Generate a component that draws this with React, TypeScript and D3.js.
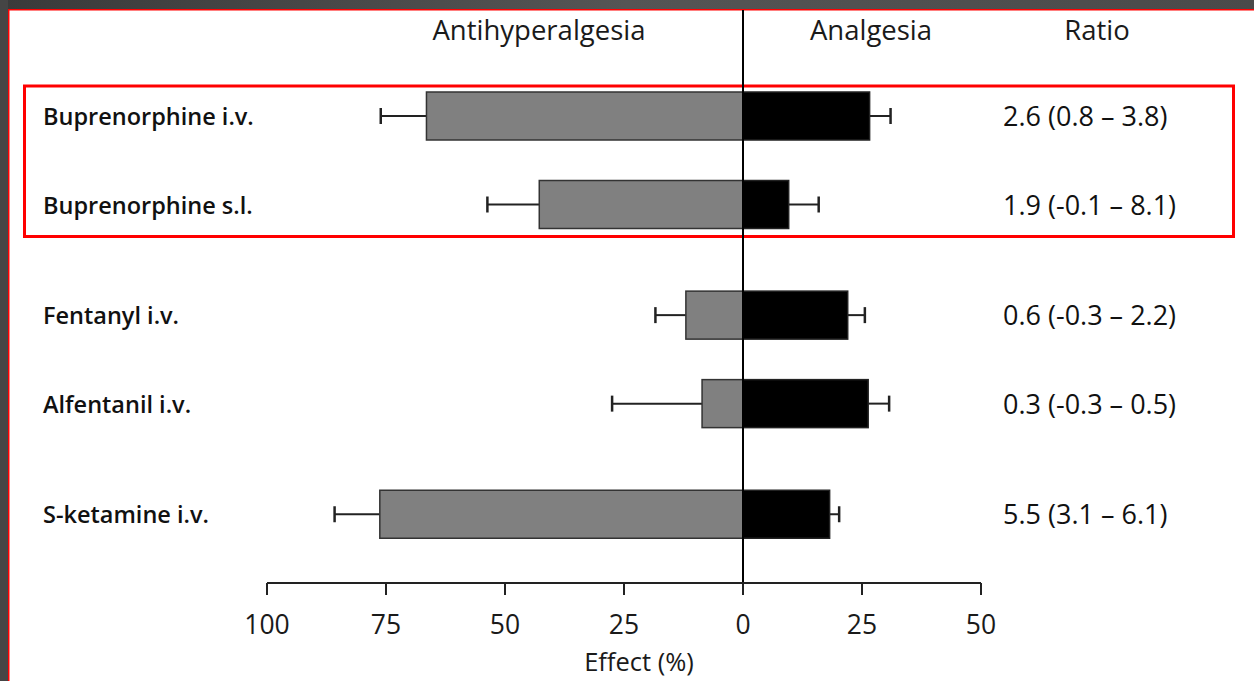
import React from "react";
import * as d3 from "d3";

const drugs = ["Buprenorphine i.v.", "Buprenorphine s.l.", "Fentanyl i.v.", "Alfentanil i.v.", "S-ketamine i.v."];
const groups = [0, 0, 1, 1, 2];
const antihyperalgesia = [66.5, 42.8, 12, 8.6, 76.3];
const antihyperalgesiaErr = [9.6, 10.9, 6.4, 18.9, 9.5];
const analgesia = [26.6, 9.6, 22, 26.3, 18.2];
const analgesiaErr = [4.4, 6.3, 3.6, 4.4, 2.0];
const ratios = ["2.6 (0.8 \u2013 3.8)", "1.9 (-0.1 \u2013 8.1)", "0.6 (-0.3 \u2013 2.2)", "0.3 (-0.3 \u2013 0.5)", "5.5 (3.1 \u2013 6.1)"];
const tickValues = [-100, -75, -50, -25, 0, 25, 50];
const highlighted = [0, 1];

const W = 1254;
const H = 681;
const FONT = "'Open Sans', 'Noto Sans', sans-serif";

export default function App() {
  const x = d3.scaleLinear().domain([-100, 50]).range([267, 981]);
  const slot = (i: number) => i + 0.25 * groups[i];
  const y = d3.scaleLinear().domain([0, 1]).range([116, 204.5]);
  const barH = 48;
  const capH = 16;
  const axisY = 583;
  const x0 = x(0);

  const hiTop = y(slot(highlighted[0])) - barH / 2 - 6;
  const hiBot = y(slot(highlighted[highlighted.length - 1])) + barH / 2 + 8;

  return (
    <svg width={W} height={H} style={{ position: "absolute", left: 0, top: 0, display: "block" }} fontFamily={FONT}>
      <defs>
        <linearGradient id="topg" x1="0" x2="1" y1="0" y2="0">
          <stop offset="0" stopColor="#3a3a3a" />
          <stop offset="0.5" stopColor="#555555" />
          <stop offset="1" stopColor="#4a4a4a" />
        </linearGradient>
      </defs>
      <rect x={0} y={0} width={W} height={H} fill="#ffffff" />
      <rect x={0} y={0} width={W} height={9} fill="url(#topg)" />
      <rect x={0} y={0} width={8} height={H} fill="#454545" />
      <line x1={8} x2={W} y1={9.75} y2={9.75} stroke="#ff0000" strokeWidth={1.5} />
      <line x1={8.75} x2={8.75} y1={9} y2={H} stroke="#ff0000" strokeWidth={1.5} />

      {/* headers */}
      <text x={539} y={40} fontSize={27.5} textAnchor="middle" fill="#1a1a1a">Antihyperalgesia</text>
      <text x={871} y={40} fontSize={27.5} textAnchor="middle" fill="#1a1a1a">Analgesia</text>
      <text x={1097} y={40} fontSize={27.5} textAnchor="middle" fill="#1a1a1a">Ratio</text>

      {/* highlight box */}
      <rect x={24.5} y={hiTop} width={1209} height={hiBot - hiTop} fill="none" stroke="#ff0000" strokeWidth={3} />

      {drugs.map((d, i) => {
        const cy = y(slot(i));
        const gl = x(-antihyperalgesia[i]);
        const ge = x(-(antihyperalgesia[i] + antihyperalgesiaErr[i]));
        const br = x(analgesia[i]);
        const be = x(analgesia[i] + analgesiaErr[i]);
        return (
          <g key={d}>
            <text x={43} y={cy + 9} fontSize={23.5} fontWeight={600} fill="#111">{d}</text>
            {/* error bars */}
            <line x1={ge} x2={gl} y1={cy} y2={cy} stroke="#222" strokeWidth={2} />
            <line x1={ge} x2={ge} y1={cy - capH / 2} y2={cy + capH / 2} stroke="#222" strokeWidth={2.5} />
            <line x1={br} x2={be} y1={cy} y2={cy} stroke="#222" strokeWidth={2} />
            <line x1={be} x2={be} y1={cy - capH / 2} y2={cy + capH / 2} stroke="#222" strokeWidth={2.5} />
            {/* bars */}
            <rect x={gl} y={cy - barH / 2} width={x0 - gl} height={barH} fill="#808080" stroke="#333" strokeWidth={1.5} />
            <rect x={x0} y={cy - barH / 2} width={br - x0} height={barH} fill="#000" stroke="#222" strokeWidth={1.5} />
            <text x={1003} y={cy + 10} fontSize={27} fill="#111">{ratios[i]}</text>
          </g>
        );
      })}

      {/* center line */}
      <line x1={x0} x2={x0} y1={10} y2={axisY + 10} stroke="#000" strokeWidth={2} />

      {/* axis */}
      <line x1={x(-100)} x2={x(50)} y1={axisY} y2={axisY} stroke="#222" strokeWidth={2} />
      {tickValues.map((t) => (
        <g key={t}>
          <line x1={x(t)} x2={x(t)} y1={axisY} y2={axisY + 12} stroke="#222" strokeWidth={2} />
          <text x={x(t)} y={axisY + 51} fontSize={26.5} textAnchor="middle" fill="#1a1a1a">{Math.abs(t)}</text>
        </g>
      ))}
      <text x={x0 - 104} y={axisY + 88} fontSize={25.5} textAnchor="middle" fill="#1a1a1a">Effect (%)</text>
    </svg>
  );
}
